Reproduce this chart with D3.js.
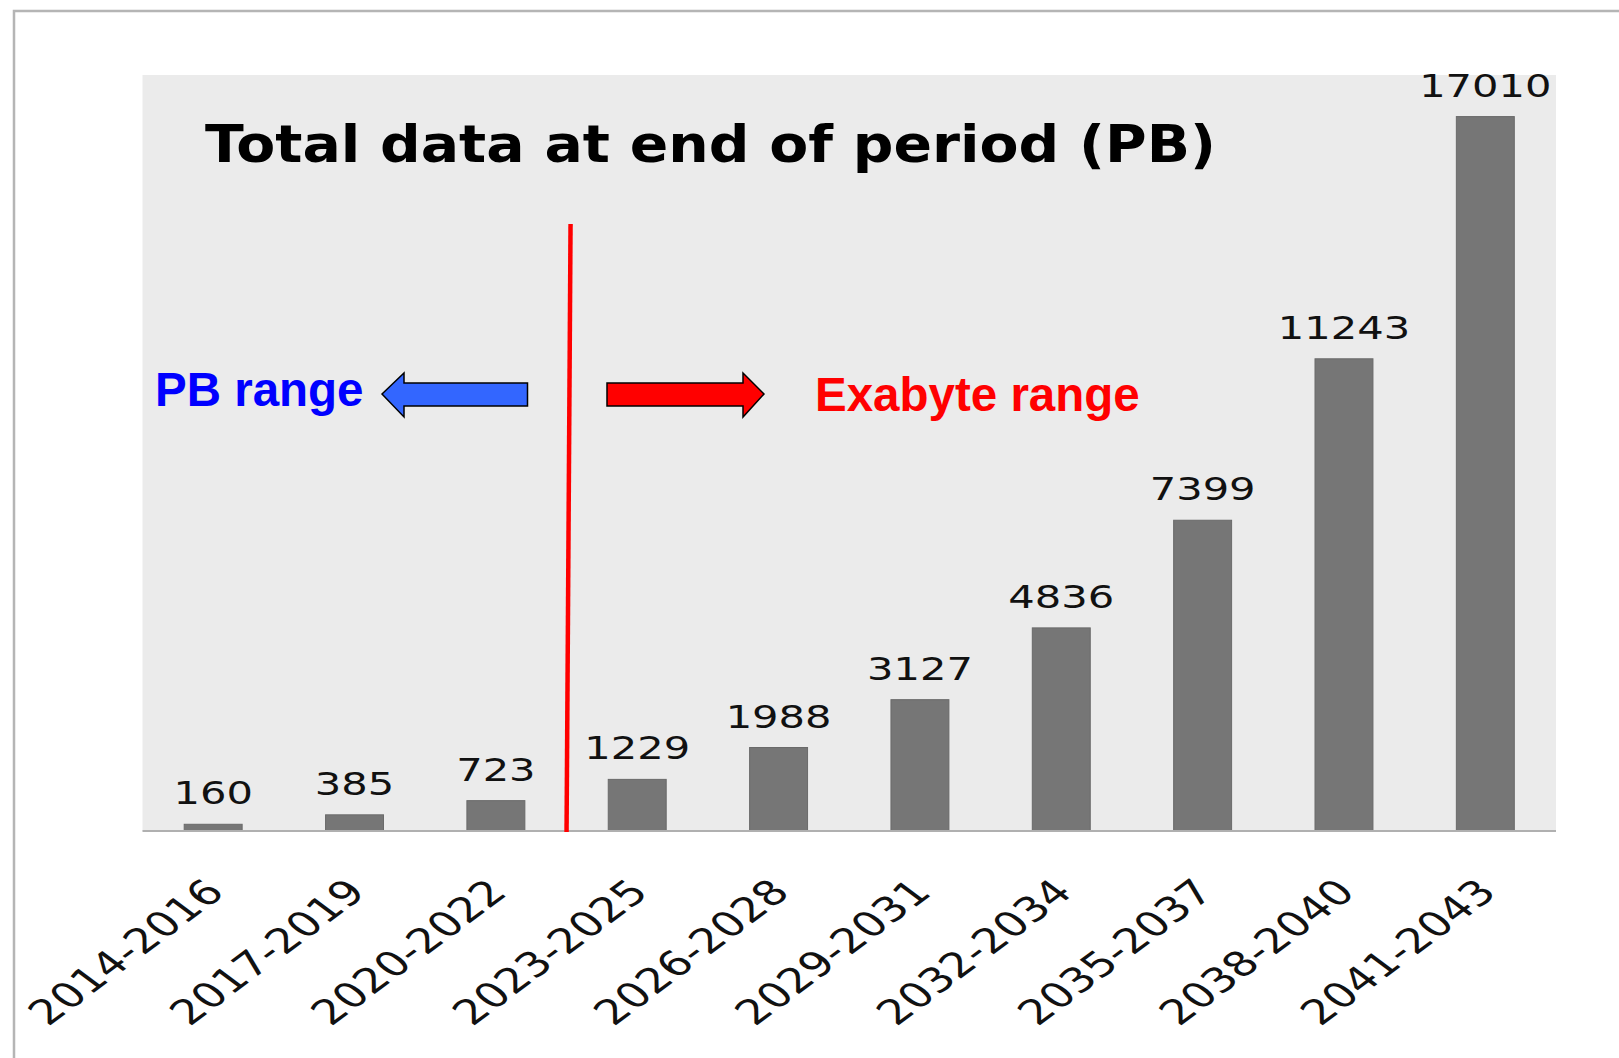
<!DOCTYPE html>
<html>
<head>
<meta charset="utf-8">
<script src="https://cdn.jsdelivr.net/npm/d3@7"></script>
<style>
    body { margin: 0; background: #fff; }
    svg { display: block; }
</style>
</head>
<body>
<div id="chart"></div>
<script>
const width = 1619;
const height = 1058;

const periods = ["2014-2016", "2017-2019", "2020-2022", "2023-2025", "2026-2028",
    "2029-2031", "2032-2034", "2035-2037", "2038-2040", "2041-2043"];
const totals = [160, 385, 723, 1229, 1988, 3127, 4836, 7399, 11243, 17010];
const yMax = 18000;

const titleText = "Total data at end of period (PB)";
const leftNote = "PB range";
const rightNote = "Exabyte range";
const splitBefore = "2023-2025";

(function main(){
    const plot = {left: 142.5, right: 1556, top: 75, bottom: 831};
    const stretch = 1.3;

    const svg = d3.select("#chart")
        .append("svg")
        .attr("width", width)
        .attr("height", height);

    // frame of the pasted picture
    svg.append("path")
        .attr("d", `M14,${height} L14,11 L${width},11`)
        .attr("fill", "none")
        .attr("stroke", "#b5b5b5")
        .attr("stroke-width", 2.5);

    svg.append("rect")
        .attr("x", plot.left)
        .attr("y", plot.top)
        .attr("width", plot.right - plot.left)
        .attr("height", plot.bottom - plot.top)
        .attr("fill", "#ebebeb");

    const xScale = d3.scaleBand()
        .domain(periods)
        .range([plot.left, plot.right])
        .paddingInner(0.59)
        .paddingOuter(0.295);

    const yScale = d3.scaleLinear()
        .domain([0, yMax])
        .range([plot.bottom, plot.top]);

    svg.append("g")
        .selectAll("rect")
        .data(totals)
        .join("rect")
        .attr("x", (d, i) => xScale(periods[i]))
        .attr("y", d => yScale(d))
        .attr("width", xScale.bandwidth())
        .attr("height", d => yScale(0) - yScale(d))
        .attr("fill", "#767676")
        .attr("stroke", "#6a6a6a")
        .attr("stroke-width", 1);

    const center = p => xScale(p) + xScale.bandwidth() / 2;

    svg.append("g")
        .selectAll("text")
        .data(totals)
        .join("text")
        .attr("transform", (d, i) => `translate(${center(periods[i])},${yScale(d) - 20}) scale(${stretch},1)`)
        .attr("text-anchor", "middle")
        .attr("font-family", "DejaVu Sans")
        .attr("font-size", 32)
        .attr("fill", "#111")
        .text(d => d);

    // x axis: line only, labels drawn at 45deg then stretched like the source image
    const xAxis = d3.axisBottom(xScale).tickSize(0).tickFormat("");
    svg.append("g")
        .attr("transform", `translate(0,${plot.bottom})`)
        .call(xAxis)
        .call(g => g.select(".domain").attr("stroke", "#b0b0b0").attr("stroke-width", 2)
            .attr("d", `M${plot.left},0H${plot.right}`));

    svg.append("g")
        .selectAll("text")
        .data(periods)
        .join("text")
        .attr("transform", d => `translate(${center(d) + 13},894) scale(${stretch + 0.04},1) rotate(-45)`)
        .attr("text-anchor", "end")
        .attr("font-family", "DejaVu Sans")
        .attr("font-size", 34.5)
        .attr("fill", "#111")
        .text(d => d);

    svg.append("text")
        .attr("x", 205)
        .attr("y", 162)
        .attr("font-family", "DejaVu Sans")
        .attr("font-weight", "bold")
        .attr("font-size", 51)
        .attr("textLength", 1011)
        .attr("lengthAdjust", "spacingAndGlyphs")
        .attr("fill", "#000")
        .text(titleText);

    // red split line between PB and exabyte periods
    const splitX = xScale(splitBefore) - xScale.step() * xScale.paddingInner() / 2;
    svg.append("line")
        .attr("x1", splitX + 4).attr("y1", 224)
        .attr("x2", splitX).attr("y2", plot.bottom + 1)
        .attr("stroke", "#ff0000")
        .attr("stroke-width", 4.5);

    const arrowY = 394;
    const leftArrow = d3.path();
    leftArrow.moveTo(382, arrowY);
    leftArrow.lineTo(404, arrowY - 21);
    leftArrow.lineTo(404, arrowY - 11);
    leftArrow.lineTo(527.5, arrowY - 11);
    leftArrow.lineTo(527.5, arrowY + 12);
    leftArrow.lineTo(404, arrowY + 12);
    leftArrow.lineTo(404, arrowY + 23);
    leftArrow.closePath();
    svg.append("path")
        .attr("d", leftArrow.toString())
        .attr("fill", "#3366ff")
        .attr("stroke", "#000")
        .attr("stroke-width", 1.5);

    const rightArrow = d3.path();
    rightArrow.moveTo(764, arrowY);
    rightArrow.lineTo(743, arrowY - 21);
    rightArrow.lineTo(743, arrowY - 11);
    rightArrow.lineTo(607, arrowY - 11);
    rightArrow.lineTo(607, arrowY + 12);
    rightArrow.lineTo(743, arrowY + 12);
    rightArrow.lineTo(743, arrowY + 23);
    rightArrow.closePath();
    svg.append("path")
        .attr("d", rightArrow.toString())
        .attr("fill", "#ff0000")
        .attr("stroke", "#000")
        .attr("stroke-width", 1.5);

    svg.append("text")
        .attr("x", 155)
        .attr("y", 406)
        .attr("font-family", "Liberation Sans")
        .attr("font-weight", "bold")
        .attr("font-size", 47.5)
        .attr("fill", "#0000ff")
        .text(leftNote);

    svg.append("text")
        .attr("x", 815)
        .attr("y", 411)
        .attr("font-family", "Liberation Sans")
        .attr("font-weight", "bold")
        .attr("font-size", 47.5)
        .attr("fill", "#ff0000")
        .text(rightNote);
})();
</script>
</body>
</html>
